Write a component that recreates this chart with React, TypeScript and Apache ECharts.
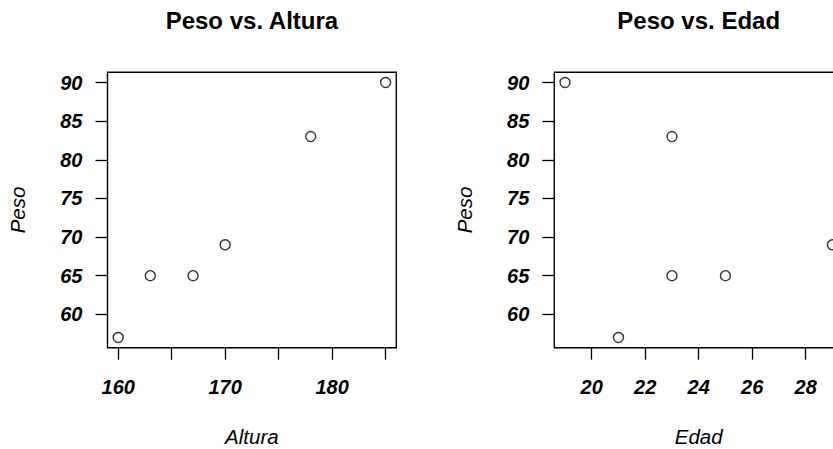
import React, { useEffect, useRef } from "react";
import * as echarts from "echarts";

// Measurements: weight (kg), height (cm), age (years)
const peso = [57, 65, 65, 69, 83, 90];
const altura = [160, 163, 167, 170, 178, 185];
const edad = [21, 23, 25, 29, 23, 19];

const pesoTicks = [60, 65, 70, 75, 80, 85, 90];
const alturaTicks = [160, 165, 170, 175, 180, 185];
const alturaLabels = [160, 170, 180];
const edadTicks = [20, 22, 24, 26, 28];

const FONT = "'Liberation Sans', Arial, Helvetica, sans-serif";

// R-style range: data range padded by 4% each side
const padRange = (v: number[]) => {
  const lo = Math.min(...v);
  const hi = Math.max(...v);
  const d = (hi - lo) * 0.04;
  return [lo - d, hi + d];
};

const PLOT_W = 288.8;
const PLOT_H = 275.4;
const PLOT_TOP = 72.3;
const LEFTS = [107.5, 554.3];

export default function App() {
  const ref = useRef<HTMLDivElement>(null);

  useEffect(() => {
    if (!ref.current) return;
    const chart = echarts.init(ref.current, undefined, { renderer: "svg" });

    const [yMin, yMax] = padRange(peso);
    const [aMin, aMax] = padRange(altura);
    const [eMin, eMax] = padRange(edad);

    const labelStyle = {
      fontFamily: FONT,
      fontSize: 20,
      fontStyle: "italic" as const,
      fontWeight: "bold" as const,
      color: "#000",
    };

    const xAxis = (gridIndex: number, min: number, max: number, ticks: number[], labels: number[]) => ({
      type: "value" as const,
      gridIndex,
      min,
      max,
      splitLine: { show: false },
      axisLine: { show: false },
      axisTick: { show: true, length: 12, customValues: ticks, lineStyle: { color: "#000", width: 1.3 } },
      axisLabel: { ...labelStyle, customValues: labels, margin: 29 },
    });

    const yAxis = (gridIndex: number) => ({
      type: "value" as const,
      gridIndex,
      min: yMin,
      max: yMax,
      splitLine: { show: false },
      axisLine: { show: false },
      axisTick: { show: true, length: 12, customValues: pesoTicks, lineStyle: { color: "#000", width: 1.3 } },
      axisLabel: { ...labelStyle, customValues: pesoTicks, margin: 25 },
    });

    const scatter = (idx: number, xs: number[]) => ({
      type: "scatter" as const,
      xAxisIndex: idx,
      yAxisIndex: idx,
      data: xs.map((x, i) => [x, peso[i]]),
      symbol: "circle",
      symbolSize: 10,
      itemStyle: { color: "#fff", borderColor: "#000", borderWidth: 1.4 },
    });

    const titles = ["Peso vs. Altura", "Peso vs. Edad"];
    const xNames = ["Altura", "Edad"];

    const graphics: any[] = [];
    LEFTS.forEach((l, i) => {
      const cx = l + PLOT_W / 2;
      graphics.push({
        type: "text",
        x: cx,
        y: 20.7,
        style: { text: titles[i], font: `bold 24px ${FONT}`, fill: "#000", align: "center", verticalAlign: "middle" },
      });
      graphics.push({
        type: "text",
        x: cx,
        y: 436.3,
        style: { text: xNames[i], font: `italic 20.5px ${FONT}`, fill: "#000", align: "center", verticalAlign: "middle" },
      });
      graphics.push({
        type: "text",
        x: l - 90,
        y: PLOT_TOP + PLOT_H / 2,
        rotation: Math.PI / 2,
        style: { text: "Peso", font: `italic 20.5px ${FONT}`, fill: "#000", align: "center", verticalAlign: "middle" },
      });
    });

    chart.setOption({
      animation: false,
      backgroundColor: "#fff",
      grid: LEFTS.map((l) => ({
        left: l,
        top: PLOT_TOP,
        width: PLOT_W,
        height: PLOT_H,
        show: true,
        borderColor: "#000",
        borderWidth: 1.4,
        backgroundColor: "transparent",
        containLabel: false,
      })),
      xAxis: [
        xAxis(0, aMin, aMax, alturaTicks, alturaLabels),
        xAxis(1, eMin, eMax, edadTicks, edadTicks),
      ],
      yAxis: [yAxis(0), yAxis(1)],
      series: [scatter(0, altura), scatter(1, edad)],
      graphic: graphics,
    });

    return () => chart.dispose();
  }, []);

  return (
    <div style={{ position: "fixed", left: 0, top: 0, width: 833, height: 449, overflow: "hidden", background: "#fff" }}>
      <div ref={ref} style={{ width: 900, height: 449 }} />
    </div>
  );
}
